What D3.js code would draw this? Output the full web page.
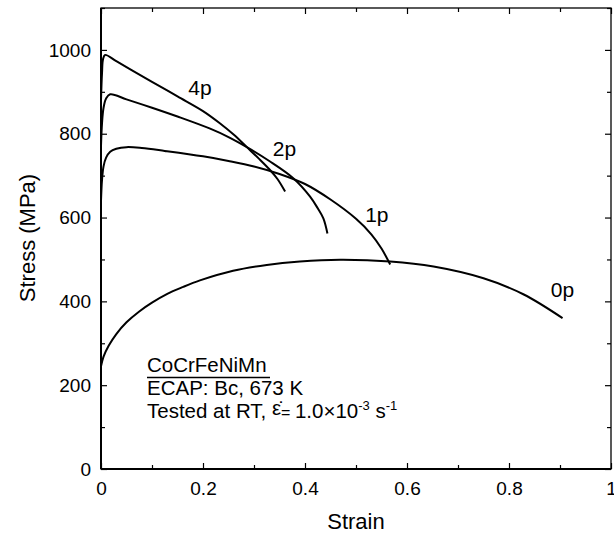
<!DOCTYPE html>
<html><head><meta charset="utf-8">
<script src="https://cdn.jsdelivr.net/npm/d3@7"></script>
<style>body{margin:0;background:#fff}svg{display:block}text{font-family:"Liberation Sans",Arial,Helvetica,sans-serif;fill:#000}</style>
</head><body>
<script>
// Data (strain, stress MPa)
const curve0p = [[0,245],[0.005,268],[0.015,294],[0.03,322],[0.05,350],[0.075,376],[0.1,397],[0.13,418],[0.16,434],[0.194,450],[0.259,473],[0.325,487],[0.39,495],[0.469,499],[0.567,495],[0.652,483],[0.75,455],[0.828,417],[0.905,360]];
const curve1p = [[0,640],[0.002,690],[0.005,722],[0.01,743],[0.018,757],[0.03,764],[0.05,768],[0.08,766],[0.125,759],[0.2,746],[0.25,735],[0.3,722],[0.35,704],[0.4,680],[0.45,643],[0.5,597],[0.53,560],[0.55,526],[0.567,488]];
const curve2p = [[0,770],[0.002,825],[0.005,862],[0.01,884],[0.018,894],[0.05,882],[0.1,862],[0.15,841],[0.214,812],[0.25,792],[0.286,768],[0.33,735],[0.377,694],[0.41,650],[0.425,622],[0.436,598],[0.444,562]];
const curve4p = [[0,880],[0.002,945],[0.004,978],[0.008,988],[0.03,973],[0.06,952],[0.1,924],[0.15,889],[0.2,854],[0.233,825],[0.26,798],[0.286,768],[0.31,740],[0.331,714],[0.346,692],[0.361,662]];
const seriesNames = ["0p","1p","2p","4p"];
const labelPos = [[0.882,411],[0.518,590],[0.337,748],[0.171,893]];
const xTicks = [0,0.2,0.4,0.6,0.8,1];
const xMinor = [0.1,0.3,0.5,0.7,0.9];
const yTicks = [0,200,400,600,800,1000];
const yMinor = [100,300,500,700,900,1100];
const noteLines = ["CoCrFeNiMn","ECAP: Bc, 673 K"];

const W=614,H=537;
const svg=d3.select("body").append("svg").attr("width",W).attr("height",H);
const x=d3.scaleLinear().domain([0,1]).range([101,611]);
const y=d3.scaleLinear().domain([0,1100]).range([469,8]);
const tickFmt=d=>d===0?"0":d===1?"1":d3.format(".1f")(d);

// frame
svg.append("rect").attr("x",x(0)).attr("y",y(1100)).attr("width",x(1)-x(0)).attr("height",y(0)-y(1100))
  .attr("fill","none").attr("stroke","#000").attr("stroke-width",1.3);
svg.append("line").attr("x1",x(0)).attr("x2",x(0)).attr("y1",y(1100)).attr("y2",y(0)).attr("stroke","#000").attr("stroke-width",2);
svg.append("line").attr("x1",x(0)).attr("x2",x(1)).attr("y1",y(0)).attr("y2",y(0)).attr("stroke","#000").attr("stroke-width",2);

// axes with inward ticks
const fs=19;
const gx=svg.append("g").attr("transform",`translate(0,${y(0)})`)
  .call(d3.axisBottom(x).tickValues(xTicks).tickSizeInner(-6).tickSizeOuter(0).tickPadding(13).tickFormat(tickFmt));
const gxm=svg.append("g").attr("transform",`translate(0,${y(0)})`)
  .call(d3.axisBottom(x).tickValues(xMinor).tickSizeInner(-4).tickSizeOuter(0).tickFormat(""));
const gxt=svg.append("g").attr("transform",`translate(0,${y(1100)})`)
  .call(d3.axisTop(x).tickValues(xTicks).tickSizeInner(-6).tickSizeOuter(0).tickFormat(""));
const gxtm=svg.append("g").attr("transform",`translate(0,${y(1100)})`)
  .call(d3.axisTop(x).tickValues(xMinor).tickSizeInner(-4).tickSizeOuter(0).tickFormat(""));
const gy=svg.append("g").attr("transform",`translate(${x(0)},0)`)
  .call(d3.axisLeft(y).tickValues(yTicks).tickSizeInner(-6).tickSizeOuter(0).tickPadding(10).tickFormat(d3.format("d")));
const gym=svg.append("g").attr("transform",`translate(${x(0)},0)`)
  .call(d3.axisLeft(y).tickValues(yMinor).tickSizeInner(-4).tickSizeOuter(0).tickFormat(""));
const gyr=svg.append("g").attr("transform",`translate(${x(1)},0)`)
  .call(d3.axisRight(y).tickValues(yTicks).tickSizeInner(-6).tickSizeOuter(0).tickFormat(""));
const gyrm=svg.append("g").attr("transform",`translate(${x(1)},0)`)
  .call(d3.axisRight(y).tickValues(yMinor).tickSizeInner(-4).tickSizeOuter(0).tickFormat(""));
[gx,gxm,gxt,gxtm,gy,gym,gyr,gyrm].forEach(g=>{
  g.select(".domain").remove();
  g.selectAll(".tick line").attr("stroke","#000").attr("stroke-width",1.2);
  g.selectAll("text").attr("font-size",fs).attr("font-family","Liberation Sans, Arial, sans-serif").attr("fill","#000");
});

// titles
svg.append("text").attr("x",356).attr("y",529).attr("text-anchor","middle").attr("font-size",22).text("Strain");
svg.append("text").attr("transform","translate(35,238) rotate(-90)").attr("text-anchor","middle").attr("font-size",22).text("Stress (MPa)");

// curves
const line=d3.line().x(d=>x(d[0])).y(d=>y(d[1])).curve(d3.curveCatmullRom.alpha(0.5));
[curve0p,curve1p,curve2p,curve4p].forEach(c=>{
  svg.append("path").attr("d",line(c)).attr("fill","none").attr("stroke","#000").attr("stroke-width",2);
});
seriesNames.forEach((n,i)=>{
  svg.append("text").attr("x",x(labelPos[i][0])).attr("y",y(labelPos[i][1])).attr("font-size",21).text(n);
});

// annotation
const nx=147, afs=20.5;
svg.append("text").attr("x",nx).attr("y",372).attr("font-size",afs).text(noteLines[0]);
svg.append("line").attr("x1",147).attr("x2",270).attr("y1",377.5).attr("y2",377.5).attr("stroke","#000").attr("stroke-width",1.5);
svg.append("text").attr("x",nx).attr("y",395).attr("font-size",afs).text(noteLines[1]);
const t3=svg.append("text").attr("x",nx).attr("y",418).attr("font-size",afs);
t3.append("tspan").text("Tested at RT, ");
t3.append("tspan").attr("dy",-3).text("\u03B5\u0307");
t3.append("tspan").attr("dy",3).attr("font-size",16).text("= ");
t3.append("tspan").text("1.0\u00D710");
t3.append("tspan").attr("dy",-8).attr("font-size",13).text("-3");
t3.append("tspan").attr("dy",8).text(" s");
t3.append("tspan").attr("dy",-8).attr("font-size",13).text("-1");
</script>
</body></html>
